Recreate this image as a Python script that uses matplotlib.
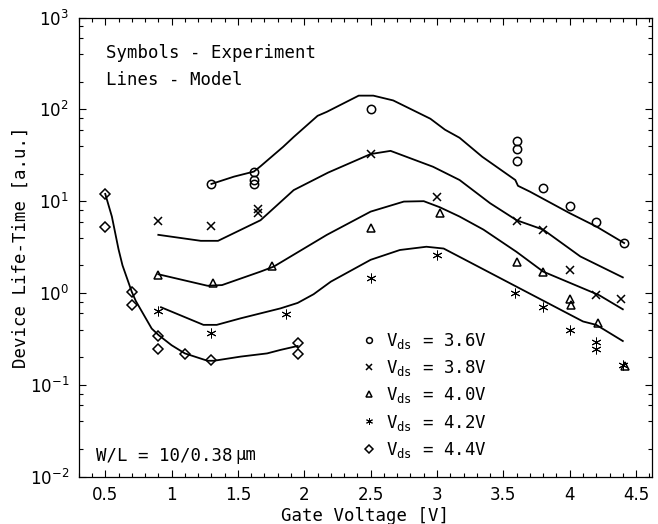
import matplotlib
matplotlib.use("Agg")
import matplotlib.pyplot as plt
from matplotlib.ticker import LogLocator, FixedLocator, MultipleLocator, NullFormatter
from matplotlib.lines import Line2D


# ------------------------------
# 데이터
# ------------------------------
# 실험값 (심볼)
v36_x = [1.3, 1.62, 1.62, 1.62, 2.5, 3.6, 3.6, 3.6, 3.8, 4.0, 4.2, 4.41]
v36_y = [15.4, 20.9, 17.0, 15.4, 102, 45, 37, 27.4, 14.0, 8.9, 6.0, 3.5]

v38_x = [0.9, 1.3, 1.65, 1.65, 2.5, 3.0, 3.6, 3.8, 4.0, 4.2, 4.39]
v38_y = [6.1, 5.3, 8.2, 7.4, 32.6, 11.2, 6.1, 4.9, 1.8, 0.95, 0.85]

v40_x = [0.9, 1.31, 1.76, 2.5, 3.02, 3.6, 3.8, 4.0, 4.01, 4.21, 4.42]
v40_y = [1.57, 1.29, 1.97, 5.1, 7.4, 2.2, 1.69, 0.85, 0.74, 0.475, 0.16]

v42_x = [0.9, 1.3, 1.86, 2.5, 3.0, 3.59, 3.8, 4.0, 4.2, 4.2, 4.4]
v42_y = [0.63, 0.37, 0.59, 1.45, 2.6, 0.99, 0.71, 0.40, 0.29, 0.245, 0.165]

v44_x = [0.5, 0.5, 0.7, 0.7, 0.9, 0.9, 1.1, 1.3, 1.95, 1.95]
v44_y = [12.0, 5.2, 1.03, 0.74, 0.34, 0.245, 0.217, 0.187, 0.283, 0.217]

# 모델 (실선)
m36_x = [1.3, 1.47, 1.62, 1.67, 1.84, 1.92, 2.1, 2.17, 2.41, 2.52, 2.67, 2.95,
         3.06, 3.17, 3.34, 3.59, 3.61, 3.7, 4.0, 4.2, 4.41]
m36_y = [15.4, 18.5, 21, 24, 39, 50, 85, 94, 141, 141, 125, 79,
         60, 49, 30.5, 17.0, 14.7, 12.7, 7.4, 5.3, 3.5]

m38_x = [0.9, 1.22, 1.35, 1.67, 1.92, 2.18, 2.5, 2.65, 2.97, 3.17, 3.4, 3.6,
         3.8, 4.08, 4.4]
m38_y = [4.3, 3.7, 3.7, 6.2, 13.2, 20.5, 32.6, 35.3, 23.7, 17.0, 9.5, 6.2,
         4.9, 2.5, 1.48]

m40_x = [0.9, 1.27, 1.38, 1.67, 1.77, 2.17, 2.5, 2.75, 2.9, 3.02, 3.17, 3.35,
         3.6, 3.8, 4.22, 4.4]
m40_y = [1.6, 1.2, 1.22, 1.71, 1.94, 4.3, 7.7, 9.9, 10.0, 8.6, 6.8, 4.9,
         2.8, 1.71, 0.95, 0.665]

m42_x = [0.92, 1.24, 1.34, 1.52, 1.82, 1.95, 2.07, 2.2, 2.5, 2.72, 2.92, 3.05,
         3.2, 3.6, 4.1, 4.2, 4.4]
m42_y = [0.70, 0.45, 0.45, 0.53, 0.68, 0.78, 0.97, 1.33, 2.3, 2.94, 3.19, 3.05,
         2.35, 1.17, 0.49, 0.45, 0.30]

m44_x = [0.5, 0.55, 0.6, 0.63, 0.7, 0.73, 0.85, 0.9, 1.0, 1.1, 1.27, 1.32,
         1.52, 1.72, 1.82, 1.95]
m44_y = [12, 6.8, 3.0, 2.0, 1.03, 0.82, 0.41, 0.35, 0.27, 0.22, 0.183, 0.183,
         0.203, 0.22, 0.24, 0.265]

legend_labels = [r"$\mathregular{V_{ds}}$ = 3.6V", r"$\mathregular{V_{ds}}$ = 3.8V",
                 r"$\mathregular{V_{ds}}$ = 4.0V", r"$\mathregular{V_{ds}}$ = 4.2V",
                 r"$\mathregular{V_{ds}}$ = 4.4V"]

xtick_vals = [0.5, 1, 1.5, 2, 2.5, 3, 3.5, 4, 4.5]
xtick_labels = ["0.5", "1", "1.5", "2", "2.5", "3", "3.5", "4", "4.5"]


def main():
    plt.rcParams["font.family"] = ["DejaVu Sans"]
    plt.rcParams["mathtext.fontset"] = "dejavusans"
    mono = "DejaVu Sans Mono"

    fig = plt.figure(figsize=(6.58, 5.24), dpi=100)
    ax = fig.add_axes([0.1196, 0.0903, 0.8713, 0.8763])

    series = [
        (v36_x, v36_y, m36_x, m36_y, dict(marker="o", ms=6, mew=1.1)),
        (v38_x, v38_y, m38_x, m38_y, dict(marker="x", ms=5.5, mew=1.1)),
        (v40_x, v40_y, m40_x, m40_y, dict(marker="^", ms=6, mew=1.1)),
        (v42_x, v42_y, m42_x, m42_y, dict(marker=(6, 2, 0), ms=7, mew=0.7)),
        (v44_x, v44_y, m44_x, m44_y, dict(marker="D", ms=5.5, mew=1.1)),
    ]

    handles = []
    for sx, sy, mx, my, mk in series:
        ax.plot(mx, my, color="black", lw=1.3)
        ax.plot(sx, sy, ls="none", mfc="none", mec="black", **mk)
        handles.append(Line2D([], [], ls="none", mfc="none", mec="black", **mk))

    ax.set_yscale("log")
    ax.set_xlim(0.3, 4.62)
    ax.set_ylim(1e-2, 1e3)

    ax.xaxis.set_major_locator(FixedLocator(xtick_vals))
    ax.set_xticklabels(xtick_labels)
    ax.xaxis.set_minor_locator(MultipleLocator(0.1))
    ax.yaxis.set_major_locator(LogLocator(base=10, numticks=10))
    ax.yaxis.set_minor_locator(LogLocator(base=10, subs=[2, 4, 6, 8], numticks=10))
    ax.yaxis.set_minor_formatter(NullFormatter())

    ax.tick_params(which="both", direction="in", top=True, right=True, width=0.8)
    ax.tick_params(which="major", length=5, labelsize=12, pad=7)
    ax.tick_params(which="minor", length=3)
    for sp in ax.spines.values():
        sp.set_linewidth(0.9)

    ax.set_xlabel("Gate Voltage [V]", family=mono, fontsize=12.5, labelpad=2)
    ax.set_ylabel("Device Life-Time [a.u.]", family=mono, fontsize=12.5, labelpad=0)

    ax.text(0.048, 0.923, "Symbols - Experiment", transform=ax.transAxes,
            family=mono, fontsize=12.5, va="center")
    ax.text(0.048, 0.864, "Lines - Model", transform=ax.transAxes,
            family=mono, fontsize=12.5, va="center")
    # W/L 표기: 숫자와 단위 사이 좁은 간격
    wl = ax.text(0.030, 0.047, "W/L = 10/0.38", transform=ax.transAxes,
                 family=mono, fontsize=12.5, va="center")
    ax.annotate("µm", xy=(1, 0.5), xycoords=wl, xytext=(2.5, 0),
                textcoords="offset points", family=mono, fontsize=12.5,
                va="center", ha="left")

    ax.legend(handles, legend_labels, loc="upper left", bbox_to_anchor=(0.491, 0.318),
              frameon=False, prop={"family": mono, "size": 12.5}, markerscale=0.7,
              handlelength=1.0, handletextpad=0.5, labelspacing=0.42,
              borderpad=0, borderaxespad=0)

    fig.savefig("out.png", dpi=100)
    plt.close(fig)


if __name__ == "__main__":
    main()
